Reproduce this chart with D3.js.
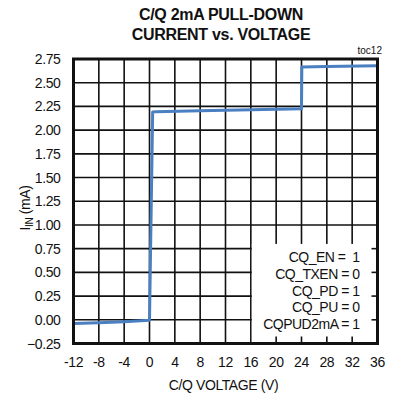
<!DOCTYPE html>
<html lang="en">
<head>
    <meta charset="UTF-8">
    <title>C/Q 2mA Pull-Down Current vs. Voltage</title>
    <script src="https://d3js.org/d3.v7.min.js"></script>
    <style>
        body {
            margin: 0;
            background: white;
            font-family: "Liberation Sans", Arial, sans-serif;
        }
        svg {
            display: block;
        }
        .tick-label {
            font-size: 14px;
            letter-spacing: -0.4px;
            fill: #111;
        }
        .legend-text {
            font-size: 14px;
            letter-spacing: -0.5px;
            fill: #111;
            white-space: pre;
        }
    </style>
</head>
<body>
<svg width="393" height="396"></svg>
<script>
    // curve
    const voltage = [-12, -8, -4, 0, 0.5, 1, 8, 16, 24, 24.05, 28, 36];
    const current = [-0.04, -0.03, -0.02, -0.005, 2.19, 2.195, 2.205, 2.215, 2.225, 2.665, 2.672, 2.68];

    const xTicks = [-12, -8, -4, 0, 4, 8, 12, 16, 20, 24, 28, 32, 36];
    const yTicks = [-0.25, 0, 0.25, 0.5, 0.75, 1, 1.25, 1.5, 1.75, 2, 2.25, 2.5, 2.75];
    const legendLines = ["CQ_EN =  1", "CQ_TXEN = 0", "CQ_PD = 1", "CQ_PU = 0", "CQPUD2mA = 1"];

    const svg = d3.select("svg"),
        margin = { top: 59, right: 15.5, bottom: 52.5, left: 73.5 },
        width = 393 - margin.left - margin.right,
        height = 396 - margin.top - margin.bottom;

    const x = d3.scaleLinear().domain([-12, 36]).range([0, width]);
    const y = d3.scaleLinear().domain([-0.25, 2.75]).range([height, 0]);

    const g = svg.append("g").attr("transform", `translate(${margin.left},${margin.top})`);

    // grid
    g.selectAll(".vgrid")
        .data(xTicks)
        .enter().append("line")
        .attr("x1", d => x(d)).attr("x2", d => x(d))
        .attr("y1", 0).attr("y2", height)
        .attr("stroke", "#111").attr("stroke-width", 1.6);

    g.selectAll(".hgrid")
        .data(yTicks)
        .enter().append("line")
        .attr("x1", 0).attr("x2", width)
        .attr("y1", d => y(d)).attr("y2", d => y(d))
        .attr("stroke", "#111").attr("stroke-width", 1.6);

    // legend box blanks out the grid in the lower right
    g.append("rect")
        .attr("x", x(16) + 1)
        .attr("y", y(0.8))
        .attr("width", x(36) - x(16) - 1)
        .attr("height", y(-0.25) - y(0.8))
        .attr("fill", "white");

    // small inner ticks inside the legend box
    g.selectAll(".btick")
        .data(xTicks.filter(d => d > 16 && d < 36))
        .enter().append("line")
        .attr("x1", d => x(d)).attr("x2", d => x(d))
        .attr("y1", height).attr("y2", height - 7)
        .attr("stroke", "#111").attr("stroke-width", 1.6);

    g.selectAll(".rtick")
        .data(yTicks.filter(d => d > -0.25 && d < 0.8))
        .enter().append("line")
        .attr("x1", width).attr("x2", width - 6)
        .attr("y1", d => y(d)).attr("y2", d => y(d))
        .attr("stroke", "#111").attr("stroke-width", 1.6);

    g.selectAll(".legend-text")
        .data(legendLines)
        .enter().append("text")
        .attr("class", "legend-text")
        .attr("xml:space", "preserve")
        .attr("x", width - 18)
        .attr("y", (d, i) => y(0.8) + 18 + i * 16.8)
        .attr("text-anchor", "end")
        .text(d => d);

    // data
    const line = d3.line()
        .x((d, i) => x(voltage[i]))
        .y(d => y(d));

    g.append("path")
        .datum(current)
        .attr("fill", "none")
        .attr("stroke", "#4a7fc1")
        .attr("stroke-width", 3)
        .attr("stroke-linejoin", "round")
        .attr("d", line);

    // frame
    g.append("rect")
        .attr("width", width)
        .attr("height", height)
        .attr("fill", "none")
        .attr("stroke", "#111")
        .attr("stroke-width", 3);

    // tick labels
    g.selectAll(".xlab")
        .data(xTicks)
        .enter().append("text")
        .attr("class", "tick-label")
        .attr("x", d => x(d))
        .attr("y", height + 23)
        .attr("text-anchor", "middle")
        .text(d => d);

    g.selectAll(".ylab")
        .data(yTicks)
        .enter().append("text")
        .attr("class", "tick-label")
        .attr("x", -13)
        .attr("y", d => y(d) + 5)
        .attr("text-anchor", "end")
        .text(d => d3.format(".2f")(d));

    // axis titles
    svg.append("text")
        .attr("x", margin.left + width / 2 - 2)
        .attr("y", 390)
        .attr("text-anchor", "middle")
        .attr("font-size", 14)
        .attr("letter-spacing", "-0.4px")
        .attr("fill", "#111")
        .text("C/Q VOLTAGE (V)");

    const yTitle = svg.append("text")
        .attr("transform", "translate(30,208) rotate(-90)")
        .attr("text-anchor", "middle")
        .attr("font-size", 14)
        .attr("letter-spacing", "-0.4px")
        .attr("fill", "#111");
    yTitle.append("tspan").text("I");
    yTitle.append("tspan").attr("font-size", 10).attr("dy", 3).text("IN");
    yTitle.append("tspan").attr("dy", -3).text(" (mA)");

    // title
    svg.append("text")
        .attr("x", 221)
        .attr("y", 20)
        .attr("text-anchor", "middle")
        .attr("font-size", 16)
        .attr("font-weight", "bold")
        .attr("letter-spacing", "-0.3px")
        .attr("fill", "#111")
        .text("C/Q 2mA PULL-DOWN");

    svg.append("text")
        .attr("x", 221)
        .attr("y", 40)
        .attr("text-anchor", "middle")
        .attr("font-size", 16)
        .attr("font-weight", "bold")
        .attr("letter-spacing", "-0.3px")
        .attr("fill", "#111")
        .text("CURRENT vs. VOLTAGE");

    svg.append("text")
        .attr("x", 382)
        .attr("y", 54)
        .attr("text-anchor", "end")
        .attr("font-size", 10)
        .attr("fill", "#111")
        .text("toc12");
</script>
</body>
</html>
